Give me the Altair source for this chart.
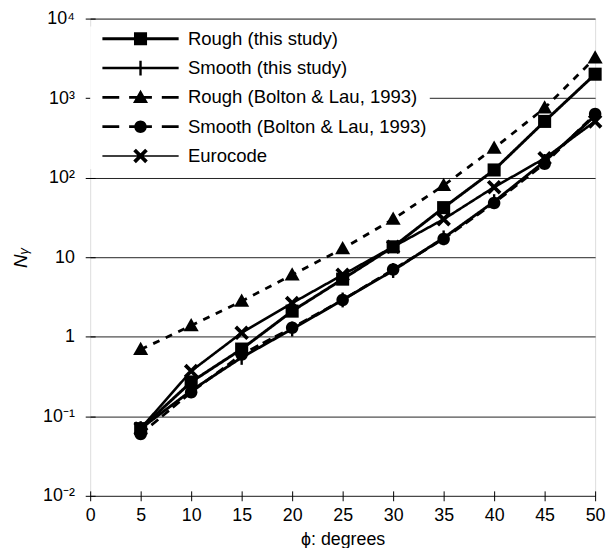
import altair as alt
import pandas as pd

phi = [5, 10, 15, 20, 25, 30, 35, 40, 45, 50]
series_names = [
    "Rough (this study)",
    "Smooth (this study)",
    "Rough (Bolton & Lau, 1993)",
    "Smooth (Bolton & Lau, 1993)",
    "Eurocode",
]
rough_this = [0.07, 0.27, 0.70, 2.1, 5.3, 13.5, 42, 125, 510, 2000]
smooth_this = [0.07, 0.21, 0.55, 1.25, 2.9, 6.8, 17.5, 50, 160, 600]
rough_bolton = [0.69, 1.38, 2.8, 6.0, 12.8, 30, 80, 235, 750, 3200]
smooth_bolton = [0.06, 0.20, 0.60, 1.3, 2.9, 7.0, 17.0, 48, 150, 630]
eurocode = [0.07, 0.37, 1.12, 2.65, 6.0, 13.5, 30, 76, 175, 510]
y_tick_values = [0.01, 0.1, 1, 10, 100, 1000, 10000]
y_tick_labels = ["10\u207b\u00b2", "10\u207b\u00b9", "1", "10", "10\u00b2", "10\u00b3", "10\u2074"]
x_tick_values = [0, 5, 10, 15, 20, 25, 30, 35, 40, 45, 50]

rows = []
for name, vals in zip(series_names, [rough_this, smooth_this, rough_bolton, smooth_bolton, eurocode]):
    for p, v in zip(phi, vals):
        rows.append({"phi": p, "series": name, "N": v})
df = pd.DataFrame(rows)


def f(v):
    return f"{v:.2f}".rstrip("0").rstrip(".")


def rect(x0, x1, y0, y1):
    return f"M{f(x0)},{f(y0)}H{f(x1)}V{f(y1)}H{f(x0)}Z"


def square(cx, h=6.6):
    return rect(cx - h, cx + h, -h, h)


def tick(cx):
    return rect(cx - 1.2, cx + 1.2, -7.5, 7.5)


def triangle(cx):
    return f"M{f(cx)},-7.8L{f(cx + 7.6)},5.6H{f(cx - 7.6)}Z"


def circle(cx, r=6.3):
    return f"M{f(cx - r)},0A{r},{r} 0 1,1 {f(cx + r)},0A{r},{r} 0 1,1 {f(cx - r)},0Z"


def xmark(cx, a=6, w=1.9):
    d = w * 0.7071
    p1 = [(-a + d, -a - d), (a + d, a - d), (a - d, a + d), (-a - d, -a + d)]
    p2 = [(-a - d, a - d), (a - d, -a - d), (a + d, -a + d), (-a + d, a + d)]
    out = ""
    for poly in (p1, p2):
        out += "M" + "L".join(f"{f(cx + x)},{f(y)}" for x, y in poly) + "Z"
    return out


marker_paths = [square(0), tick(0), triangle(0), circle(0), xmark(0)]

L = 77
C = L / 2
thick = 1.4
dashes = [(0, 17), (27, 50), (60, 77)]


def dashed(h):
    return "".join(rect(a, b, -h, h) for a, b in dashes)


legend_paths = [
    rect(0, L, -thick, thick) + square(C),
    rect(0, L, -1.3, 1.3) + tick(C),
    dashed(thick) + triangle(C),
    dashed(thick) + circle(C),
    rect(0, L, -0.7, 0.7) + xmark(C),
]

label_expr = " : ".join(
    f"datum.value >= {v * 0.9} ? '{lab}'" for v, lab in zip(reversed(y_tick_values), reversed(y_tick_labels))
) + " : ''"

FONT = "Liberation Sans"

x_enc = alt.X(
    "phi:Q",
    scale=alt.Scale(domain=[0, 50], nice=False),
    axis=alt.Axis(
        values=x_tick_values,
        title="\u03d5: degrees",
        grid=False,
        domain=False,
        tickSize=10,
        offset=-5,
        tickColor="black",
        tickWidth=1,
        labelFontSize=18,
        labelFont=FONT,
        labelColor="black",
        labelPadding=6,
        labelFlush=False,
        labelOverlap=False,
        titleFontSize=18,
        titleFont=FONT,
        titleFontWeight="normal",
        titleColor="black",
        titlePadding=6,
    ),
)
y_enc = alt.Y(
    "N:Q",
    scale=alt.Scale(type="log", domain=[0.01, 10000], nice=False),
    axis=alt.Axis(
        values=y_tick_values,
        labelExpr=label_expr,
        grid=True,
        gridColor="#222222",
        gridWidth=1,
        domain=False,
        tickSize=10,
        offset=-5,
        tickColor="black",
        tickWidth=1,
        labelFontSize=18,
        labelFont=FONT,
        labelColor="black",
        labelPadding=11,
        labelOverlap=False,
        title="N\u1d67",
        titleFontSize=19,
        titleFont=FONT,
        titleFontStyle="italic",
        titleFontWeight="normal",
        titleColor="black",
        titlePadding=12,
    ),
)

base = alt.Chart(df)

lines = base.mark_line(color="black").encode(
    x=x_enc,
    y=y_enc,
    detail="series:N",
    strokeDash=alt.StrokeDash(
        "series:N",
        scale=alt.Scale(domain=series_names, range=[[1, 0], [1, 0], [7, 7], [9, 5], [1, 0]]),
        legend=None,
    ),
    strokeWidth=alt.StrokeWidth(
        "series:N",
        scale=alt.Scale(domain=series_names, range=[3, 2.6, 3, 2.6, 1]),
        legend=None,
    ),
)

points = base.mark_point(filled=True, size=4, opacity=1, strokeWidth=0, color="black").encode(
    x=x_enc,
    y=y_enc,
    shape=alt.Shape("series:N", scale=alt.Scale(domain=series_names, range=marker_paths), legend=None),
)

legend_layer = (
    base.transform_filter("false")
    .mark_point(filled=True, size=4, opacity=1, strokeWidth=0, color="black")
    .encode(
        x=x_enc,
        y=y_enc,
        shape=alt.Shape(
            "series:N",
            scale=alt.Scale(domain=series_names, range=legend_paths),
            legend=alt.Legend(
                title=None,
                orient="none",
                legendX=0,
                legendY=8,
                symbolSize=4,
                symbolStrokeWidth=0,
                symbolFillColor="black",
                symbolOpacity=1,
                symbolOffset=0,
                labelOffset=77,
                labelFontSize=18.7,
                labelFont=FONT,
                labelColor="black",
                labelLimit=500,
                rowPadding=9.6,
                padding=3,
                fillColor="white",
            ),
        ),
    )
)

chart = (
    alt.layer(lines, points, legend_layer)
    .resolve_scale(shape="independent")
    .properties(
        width=510,
        height=482,
        autosize=alt.AutoSizeParams(type="none"),
        padding={"left": 83, "top": 8, "right": 12, "bottom": 50},
    )
    .configure_view(stroke="black", strokeWidth=1)
    .configure(background="white")
)

chart.save("out.html", embed_options={"renderer": "svg", "actions": False})
